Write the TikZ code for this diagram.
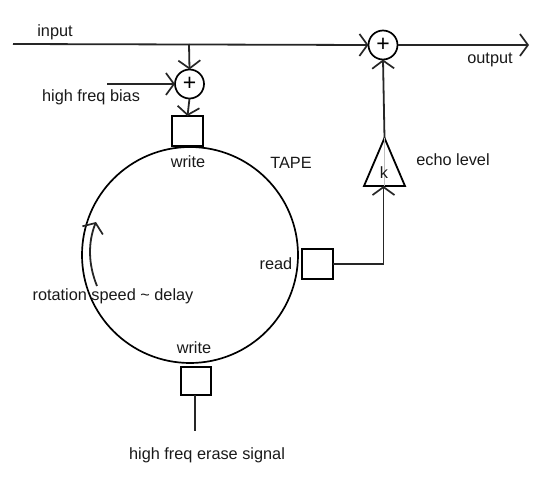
\documentclass[tikz,border=0pt]{standalone}
\usepackage{fontspec}
\setmainfont{Liberation Sans}
\usetikzlibrary{arrows.meta,shapes.geometric}

\begin{document}
\begin{tikzpicture}[
  x=1pt,
  y=-1pt,
  head/.style={draw=black, line width=2pt, fill=white, minimum width=31pt, minimum height=30pt, inner sep=0pt, outer sep=0pt},
  summer/.style={draw=black, line width=1.7pt, circle, minimum size=29pt, inner sep=0pt, outer sep=0pt, font=\fontsize{23}{23}\selectfont},
  tape/.style={draw=black, line width=1.7pt, circle, minimum size=216pt, inner sep=0pt, outer sep=0pt},
  gain/.style={draw=black, line width=1.8pt, isosceles triangle, isosceles triangle stretches, shape border rotate=90, minimum width=41pt, minimum height=48pt, inner sep=0pt, outer sep=0pt, anchor=apex},
  lbl/.style={font=\fontsize{16.3}{19}\selectfont, inner sep=0pt, text=black!90},
  sig/.style={->, line width=1.8pt, draw=black!85},
  wire/.style={line width=1.8pt, draw=black!85},
  >={Straight Barb[length=8pt, width=22pt, line width=1.7pt]}
]
\useasboundingbox (0,0) rectangle (552,486);

\node[tape] (drum) at (190,255) {};

\node[head] (wrhead) at (187.5,131) {};
\node[head] (rdhead) at (317.5,264) {};
\node[head, minimum width=30pt, minimum height=28pt] (erhead) at (196,381) {};

\node[summer] (biassum) at (189.5,84) {+};
\node[summer] (outsum) at (383,45) {+};
\node[gain] (echo) at (384.5,138) {};

\coordinate (inp) at (13,44);
\coordinate (tap) at (189,44);
\coordinate (bias) at (107,84);
\coordinate (outp) at (529,45);
\coordinate (erase) at (195,431);
\coordinate (bend) at (383.5,264);

\draw[sig] (inp) -- (outsum.west);
\draw[sig] (tap) -- (biassum.north);
\draw[sig] (bias) -- (biassum.west);
\draw[sig] (biassum.south) -- (wrhead.north);
\draw[sig] (outsum.east) -- (outp);
\draw[sig] (echo.apex) -- (outsum.south);
\draw[sig] (rdhead.east) -- (bend) -- (bend |- echo.south);
\draw[wire] (erhead.south -| erase) -- (erase);
\draw[draw=black!25, line width=0.8pt] (echo.apex) -- (echo.south);

% tape direction
\coordinate (rotfrom) at (97,286);
\coordinate (rotto) at (96,222);
\draw[sig] (rotfrom) .. controls (88,264) and (88,242) .. (rotto);

\node[lbl] (inlbl) at (55,32) {input};
\node[lbl] (biaslbl) at (91,97.5) {high freq bias};
\node[lbl] (wrlbl) at (188,162) {write};
\node[lbl] (tapelbl) at (291,163) {TAPE};
\node[lbl] (outlbl) at (490,59.5) {output};
\node[lbl] (klbl) at (384,173) {k};
\node[lbl] (echolbl) at (453,160) {echo level};
\node[lbl] (rdlbl) at (276,264) {read};
\node[lbl] (rotlbl) at (113,296.5) {rotation speed \char`~\ delay};
\node[lbl] (erlbl) at (194,348) {write};
\node[lbl] (signallbl) at (207,455.5) {high freq erase signal};
\end{tikzpicture}
\end{document}
